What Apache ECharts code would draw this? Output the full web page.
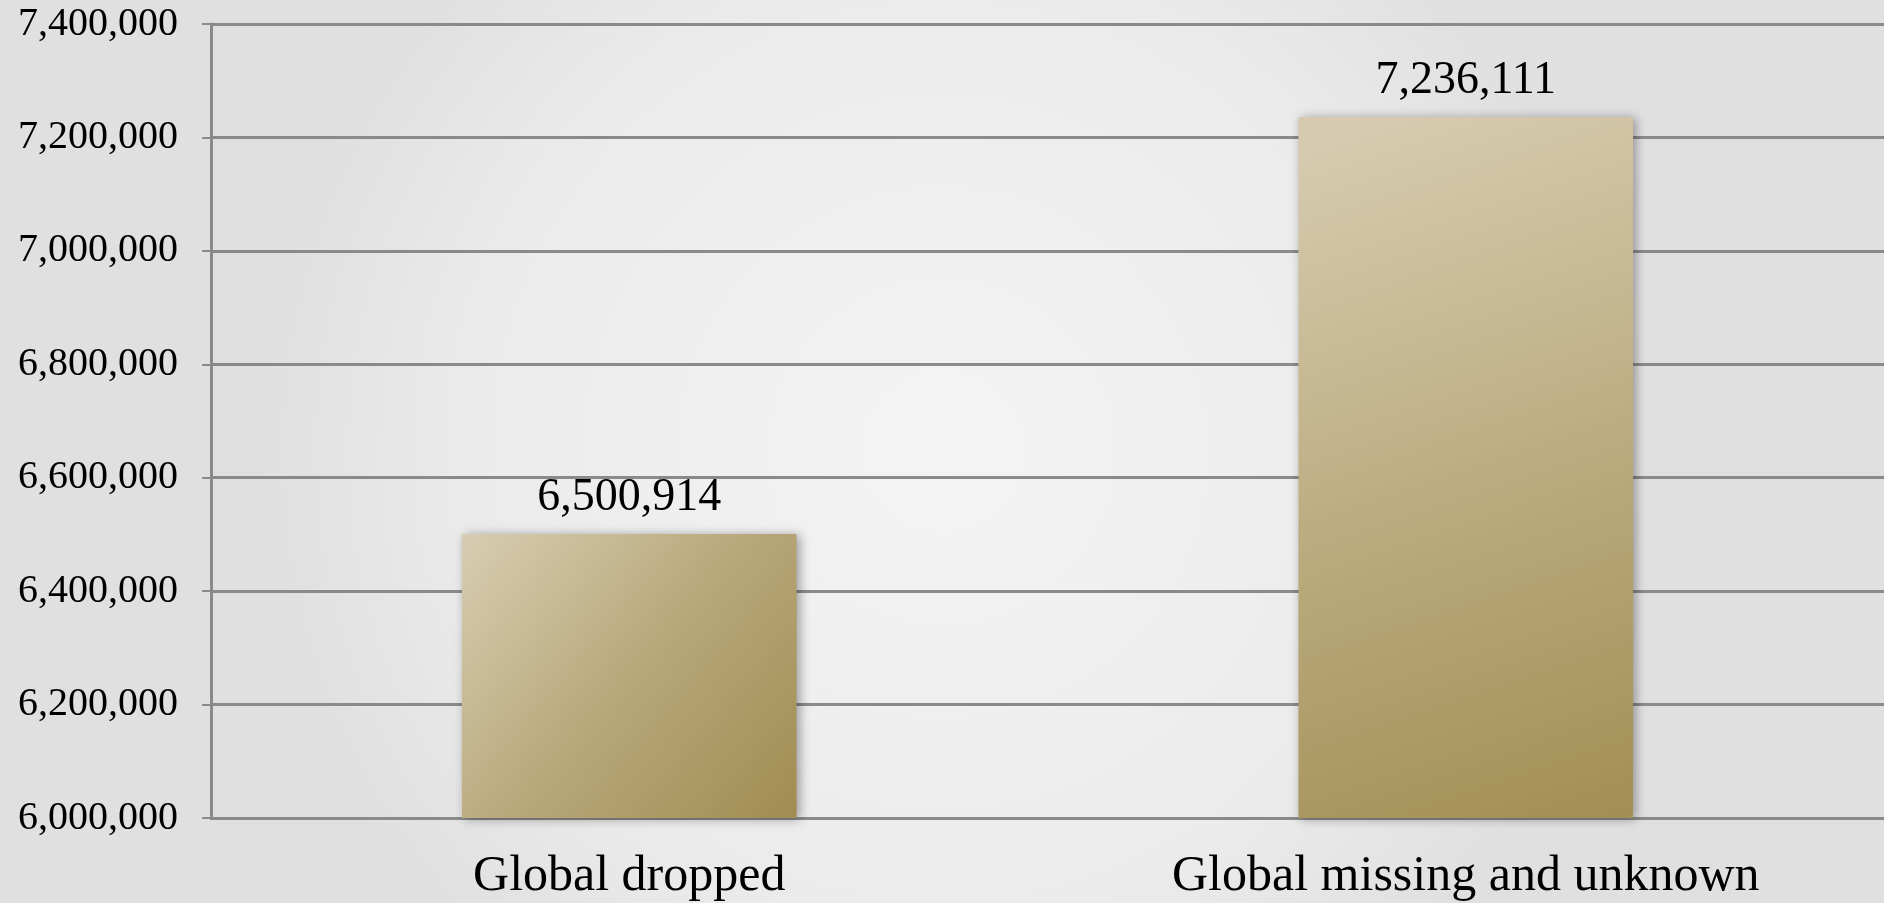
<!DOCTYPE html>
<html>
<head>
<meta charset="utf-8">
<title>Global dropped vs missing</title>
<script src="https://cdn.jsdelivr.net/npm/echarts@6/dist/echarts.min.js"></script>
<style>
html, body { margin: 0; padding: 0; }
#main { width: 1884px; height: 903px; }
</style>
</head>
<body>
<div id="main"></div>
<script type="text/javascript">
// data
var categories = ['Global dropped', 'Global missing and unknown'];
var values = [6500914, 7236111];
var yMin = 6000000, yMax = 7400000, yStep = 200000;

// bar fills, one per bar
var barStops = [
    [[0, '#d8cdb3'], [0.5, '#b8a87a'], [1, '#a18c52']],
    [[0, '#d6cbb0'], [0.55, '#b9a97b'], [1, '#a38e54']]
];

function fmt(v) { return Number(v).toLocaleString('en-US'); }

var chart = echarts.init(document.getElementById('main'));

var barData = values.map(function (v, i) {
    return {
        value: v,
        itemStyle: {
            color: new echarts.graphic.LinearGradient(i === 0 ? 0 : 0.3, 0, 1, 1,
                barStops[i].map(function (s) { return { offset: s[0], color: s[1] }; }))
        }
    };
});

var option = {
    backgroundColor: new echarts.graphic.RadialGradient(0.5, 0.5, 0.75, [
        { offset: 0, color: '#f4f4f4' },
        { offset: 0.7, color: '#ebebeb' },
        { offset: 1, color: '#e0e0e0' }
    ]),
    animation: false,
    textStyle: { fontFamily: 'Liberation Serif', color: '#000' },
    grid: { left: 211, right: 0, top: 24, bottom: 85 },
    xAxis: {
        type: 'category',
        data: categories,
        axisLine: { lineStyle: { color: '#8a8a8a', width: 3 } },
        axisTick: { length: 15, lineStyle: { color: '#8a8a8a', width: 2 } },
        axisLabel: { fontSize: 50, color: '#000', margin: 34, fontFamily: 'Liberation Serif' }
    },
    yAxis: {
        type: 'value',
        min: yMin,
        max: yMax,
        interval: yStep,
        axisLine: { show: true, lineStyle: { color: '#8a8a8a', width: 3 } },
        axisTick: { show: true, length: 9, lineStyle: { color: '#8a8a8a', width: 2 } },
        axisLabel: { fontSize: 40, color: '#000', margin: 33, formatter: fmt, fontFamily: 'Liberation Serif' },
        splitLine: { lineStyle: { color: '#8a8a8a', width: 3 } }
    },
    series: [{
        type: 'bar',
        data: barData,
        barWidth: '40%',
        itemStyle: {
            shadowBlur: 10,
            shadowColor: 'rgba(0,0,0,0.35)',
            shadowOffsetX: 3,
            shadowOffsetY: 1
        },
        label: {
            show: true,
            position: 'top',
            distance: 13,
            fontSize: 46,
            color: '#000',
            fontFamily: 'Liberation Serif',
            formatter: function (p) { return fmt(p.value); }
        }
    }]
};

chart.setOption(option);
</script>
</body>
</html>
